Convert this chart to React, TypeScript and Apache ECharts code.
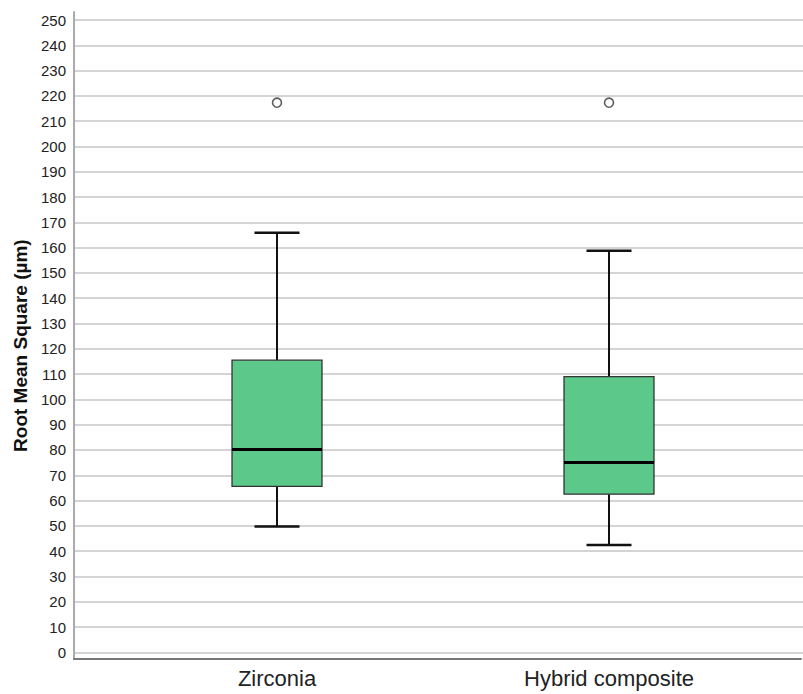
import React, { useEffect, useRef } from "react";
import * as echarts from "echarts";

const categories = ["Zirconia", "Hybrid composite"];
const lowerWhisker = [49.7, 42.4];
const quartile1 = [65.6, 62.5];
const medians = [80.2, 75.0];
const quartile3 = [115.5, 109.0];
const upperWhisker = [165.9, 158.8];
const outliers = [217.3, 217.3];

const yMin = 0;
const yMax = 250;
const yInterval = 10;

const FONT = "'Liberation Sans', Arial, sans-serif";

export default function App() {
  const ref = useRef<HTMLDivElement>(null);

  useEffect(() => {
    if (!ref.current) return;
    const chart = echarts.init(ref.current, undefined, { renderer: "svg" });

    const boxData = categories.map((_, i) => [
      i,
      lowerWhisker[i],
      quartile1[i],
      medians[i],
      quartile3[i],
      upperWhisker[i],
    ]);
    const outlierData = outliers.map((v, i) => [i, v]);

    const option: any = {
      animation: false,
      backgroundColor: "#ffffff",
      grid: [
        { left: 74, right: 0, top: 20, bottom: 41.7 },
        { left: 111, right: 28, top: 20, bottom: 41.7 },
        { left: 74, right: 2, top: 12, bottom: 35 },
      ],
      xAxis: [
        { gridIndex: 0, type: "value", show: false, min: 0, max: 1 },
        {
          gridIndex: 1,
          type: "category",
          data: categories,
          axisLine: { show: false },
          axisTick: { show: false },
          splitLine: { show: false },
          axisLabel: {
            margin: 15,
            fontSize: 22,
            color: "#222",
            fontFamily: FONT,
          },
        },
        {
          gridIndex: 2,
          type: "value",
          min: 0,
          max: 1,
          axisLine: { show: true, onZero: false, lineStyle: { color: "#777", width: 2 } },
          axisTick: { show: false },
          axisLabel: { show: false },
          splitLine: { show: false },
        },
      ],
      yAxis: [
        {
          gridIndex: 0,
          type: "value",
          min: yMin,
          max: yMax,
          interval: yInterval,
          name: "Root Mean Square (µm)",
          nameLocation: "middle",
          nameGap: 42,
          nameTextStyle: {
            fontSize: 19,
            fontWeight: "bold",
            color: "#111",
            fontFamily: FONT,
            padding: [0, 19, 0, 0],
          },
          axisLine: { show: false },
          axisTick: { show: false },
          axisLabel: {
            margin: 8,
            fontSize: 15,
            color: "#222",
            fontFamily: FONT,
          },
          splitLine: { show: true, lineStyle: { color: "#d4d4d4", width: 2 } },
        },
        { gridIndex: 1, type: "value", min: yMin, max: yMax, show: false },
        {
          gridIndex: 2,
          type: "value",
          min: 0,
          max: 1,
          axisLine: { show: true, onZero: false, lineStyle: { color: "#aaa", width: 2 } },
          axisTick: { show: false },
          axisLabel: { show: false },
          splitLine: { show: false },
        },
      ],
      series: [
        {
          type: "custom",
          xAxisIndex: 1,
          yAxisIndex: 1,
          data: boxData,
          encode: { x: 0, y: [1, 2, 3, 4, 5] },
          renderItem: (params: any, api: any) => {
            const cat = api.value(0);
            const lo = api.coord([cat, api.value(1)]);
            const q1 = api.coord([cat, api.value(2)]);
            const med = api.coord([cat, api.value(3)]);
            const q3 = api.coord([cat, api.value(4)]);
            const hi = api.coord([cat, api.value(5)]);
            const band = api.size([1, 0])[0];
            const bw = band * 0.271;
            const cw = bw / 2;
            const x = lo[0];
            const lineStyle = { stroke: "#111", lineWidth: 2 };
            return {
              type: "group",
              children: [
                { type: "line", shape: { x1: x, y1: hi[1], x2: x, y2: q3[1] }, style: lineStyle },
                { type: "line", shape: { x1: x, y1: q1[1], x2: x, y2: lo[1] }, style: lineStyle },
                { type: "line", shape: { x1: x - cw / 2, y1: hi[1], x2: x + cw / 2, y2: hi[1] }, style: { stroke: "#111", lineWidth: 2.5 } },
                { type: "line", shape: { x1: x - cw / 2, y1: lo[1], x2: x + cw / 2, y2: lo[1] }, style: { stroke: "#111", lineWidth: 2.5 } },
                {
                  type: "rect",
                  shape: { x: x - bw / 2, y: q3[1], width: bw, height: q1[1] - q3[1] },
                  style: { fill: "#5CC98A", stroke: "#333", lineWidth: 1.3 },
                },
                { type: "line", shape: { x1: x - bw / 2, y1: med[1], x2: x + bw / 2, y2: med[1] }, style: { stroke: "#000", lineWidth: 3 } },
              ],
            };
          },
          z: 3,
        },
        {
          type: "scatter",
          xAxisIndex: 1,
          yAxisIndex: 1,
          data: outlierData,
          symbol: "circle",
          symbolSize: 9,
          itemStyle: { color: "#ffffff", borderColor: "#333", borderWidth: 1.6 },
          z: 4,
        },
      ],
    };

    chart.setOption(option);
    return () => chart.dispose();
  }, []);

  return (
    <div
      ref={ref}
      style={{ position: "fixed", left: 0, top: 0, width: 803, height: 694, background: "#fff" }}
    />
  );
}
